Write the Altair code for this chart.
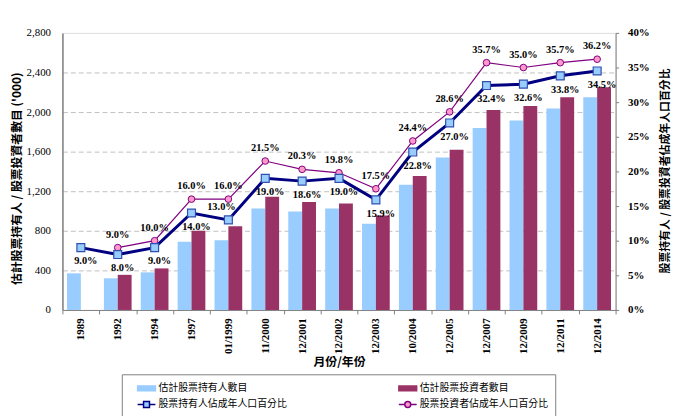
import altair as alt
import pandas as pd

periods = ["1989", "1992", "1994", "1997", "01/1999", "11/2000", "12/2001", "12/2002",
           "12/2003", "10/2004", "12/2005", "12/2007", "12/2009", "12/2011", "12/2014"]
holders_k = [370, 320, 380, 690, 705, 1025, 995, 1025, 870, 1265, 1540, 1840, 1915, 2035, 2150]
investors_k = [None, 355, 420, 800, 845, 1145, 1090, 1075, 955, 1355, 1620, 2020, 2060, 2150, 2250]
holders_pct = [9.0, 8.0, 9.0, 14.0, 13.0, 19.0, 18.6, 19.0, 15.9, 22.8, 27.0, 32.4, 32.6, 33.8, 34.5]
investors_pct = [None, 9.0, 10.0, 16.0, 16.0, 21.5, 20.3, 19.8, 17.5, 24.4, 28.6, 35.7, 35.0, 35.7, 36.2]

series_names = ["估計股票持有人數目", "估計股票投資者數目",
                "股票持有人佔成年人口百分比", "股票投資者佔成年人口百分比"]
left_ticks = [0, 400, 800, 1200, 1600, 2000, 2400, 2800]
right_ticks = [0, 5, 10, 15, 20, 25, 30, 35, 40]

BAR_BLUE = "#99CCFF"
BAR_MAROON = "#993366"
LINE_NAVY = "#000080"
LINE_PURPLE = "#800080"
MK_PINK = "#FF99CC"
SERIF = "Liberation Serif"
CJK = "Noto Sans CJK TC"

rows = []
for p, v in zip(periods, holders_k):
    if v is not None:
        rows.append({"period": p, "series": series_names[0], "value": v})
for p, v in zip(periods, investors_k):
    if v is not None:
        rows.append({"period": p, "series": series_names[1], "value": v})
bars_df = pd.DataFrame(rows)

h_df = pd.DataFrame({"period": periods, "pct": holders_pct})
i_df = pd.DataFrame({"period": periods, "pct": investors_pct}).dropna()
legend_df = pd.DataFrame({"series": series_names})

x_enc = alt.X("period:N", sort=periods,
              scale=alt.Scale(paddingInner=0, paddingOuter=0),
              axis=alt.Axis(title="月份/年份", labelAngle=270, labelFont=SERIF,
                            labelFontWeight="bold", labelFontSize=11, labelColor="black",
                            labelPadding=4, tickBand="extent", tickSize=4,
                            tickColor="#808080", domainColor="#808080",
                            titleFont=CJK, titleFontWeight="bold", titleFontSize=12,
                            titleColor="black", titleY=52, titleBaseline="middle"))

bars = alt.Chart(bars_df).mark_bar().encode(
    x=x_enc,
    xOffset=alt.XOffset("series:N", sort=series_names[:2],
                        scale=alt.Scale(paddingInner=0, paddingOuter=0.331)),
    y=alt.Y("value:Q", scale=alt.Scale(domain=[0, 2800], nice=False),
            axis=alt.Axis(title="估計股票持有人 / 股票投資者數目 ('000)", values=left_ticks,
                          format=",d", ticks=False, tickSize=0, labelPadding=12,
                          labelFont=SERIF, labelFontSize=11, labelColor="black",
                          domainColor="#808080", domainWidth=1.5,
                          grid=True, gridColor="#C0C0C0", gridDash=[5, 3],
                          gridOpacity=alt.condition("datum.value == 0 || datum.value == 2800",
                                                    alt.value(0), alt.value(1)),
                          titleFont=CJK, titleFontWeight="bold", titleFontSize=12,
                          titleColor="black", titleAngle=270, titleX=-46, titleY=147,
                          titleAlign="center", titleBaseline="middle")),
    color=alt.Color("series:N", scale=alt.Scale(domain=series_names[:2],
                                                range=[BAR_BLUE, BAR_MAROON]), legend=None),
)

y_right = alt.Y("pct:Q", scale=alt.Scale(domain=[0, 40], nice=False),
                axis=alt.Axis(title="股票持有人 / 股票投資者佔成年人口百分比", orient="right",
                              values=right_ticks, labelExpr="datum.value + '%'",
                              tickSize=3, tickColor="#808080", labelPadding=9,
                              labelFont=SERIF, labelFontWeight="bold", labelFontSize=11,
                              labelColor="black", domainColor="#808080", grid=False,
                              titleFont=CJK, titleFontWeight="bold", titleFontSize=11,
                              titleColor="black", titleAngle=270, titleX=50, titleY=139,
                              titleAlign="center", titleBaseline="middle"))
x_plain = alt.X("period:N", sort=periods)

line_h = alt.Chart(h_df).mark_line(color=LINE_NAVY, strokeWidth=3).encode(x=x_plain, y=y_right)
line_i = alt.Chart(i_df).mark_line(color=LINE_PURPLE, strokeWidth=1.2).encode(x=x_plain, y=y_right)
pts_i = alt.Chart(i_df).mark_point(shape="circle", filled=True, fill=MK_PINK, stroke=LINE_PURPLE,
                                   strokeWidth=1, size=45, opacity=1).encode(x=x_plain, y=y_right)
pts_h = alt.Chart(h_df).mark_point(shape="square", filled=True, fill=BAR_BLUE, stroke="#3050B0",
                                   strokeWidth=1.2, size=64, opacity=1).encode(x=x_plain, y=y_right)

lab_font = dict(font=SERIF, fontWeight="bold", fontSize=10.5, color="black")
txt_h = alt.Chart(h_df).transform_filter("datum.period != '01/1999'").transform_calculate(
    label="format(datum.pct, '.1f') + '%'"
).mark_text(dy=14, dx=5, **lab_font).encode(x=x_plain, y=y_right, text="label:N")
txt_h2 = alt.Chart(h_df).transform_filter("datum.period == '01/1999'").transform_calculate(
    label="format(datum.pct, '.1f') + '%'"
).mark_text(dy=-13, dx=-7, **lab_font).encode(x=x_plain, y=y_right, text="label:N")
txt_i = alt.Chart(i_df).transform_calculate(
    label="format(datum.pct, '.1f') + '%'"
).mark_text(dy=-13, **lab_font).encode(x=x_plain, y=y_right, text="label:N")

bar_sym = "M0.33,-0.4H3.33V0.4H0.33Z"
sq_sym = "M0.33,0H1.33M2.33,0H3.33M1.33,-0.5H2.33V0.5H1.33Z"
ci_sym = "M0.33,0H1.33M2.33,0H3.33M2.33,0A0.5,0.5,0,1,1,1.33,0A0.5,0.5,0,1,1,2.33,0Z"

leg = alt.Legend(title=None, orient="none", legendX=60, legendY=345, columns=2,
                 direction="horizontal",
                 columnPadding=104, rowPadding=3.5, padding=7, strokeColor="#808080",
                 labelFont=CJK, labelFontSize=10, labelColor="black", labelLimit=300,
                 symbolSize=144, labelOffset=16, symbolStrokeWidth=1.5)
legend_layer = alt.Chart(legend_df).transform_filter("false").mark_point(
    filled=True, opacity=1).encode(
    fill=alt.Fill("series:N", scale=alt.Scale(domain=series_names,
                  range=[BAR_BLUE, BAR_MAROON, BAR_BLUE, MK_PINK]), legend=leg),
    stroke=alt.Stroke("series:N", scale=alt.Scale(domain=series_names,
                      range=[BAR_BLUE, BAR_MAROON, LINE_NAVY, LINE_PURPLE]), legend=leg),
    shape=alt.Shape("series:N", scale=alt.Scale(domain=series_names,
                    range=[bar_sym, bar_sym, sq_sym, ci_sym]), legend=leg),
)

right = alt.layer(line_h, line_i, pts_i, pts_h, txt_h, txt_h2, txt_i, legend_layer)

chart = alt.layer(bars, right).resolve_scale(y="independent").properties(
    width=559, height=280,
    autosize=alt.AutoSizeParams(type="none"),
    padding={"left": 55, "top": 23, "right": 57, "bottom": 105},
).configure_view(stroke="#A0A0A0", strokeWidth=1).configure(background="white")

chart.save("out.html", embed_options={"renderer": "svg", "actions": False})
